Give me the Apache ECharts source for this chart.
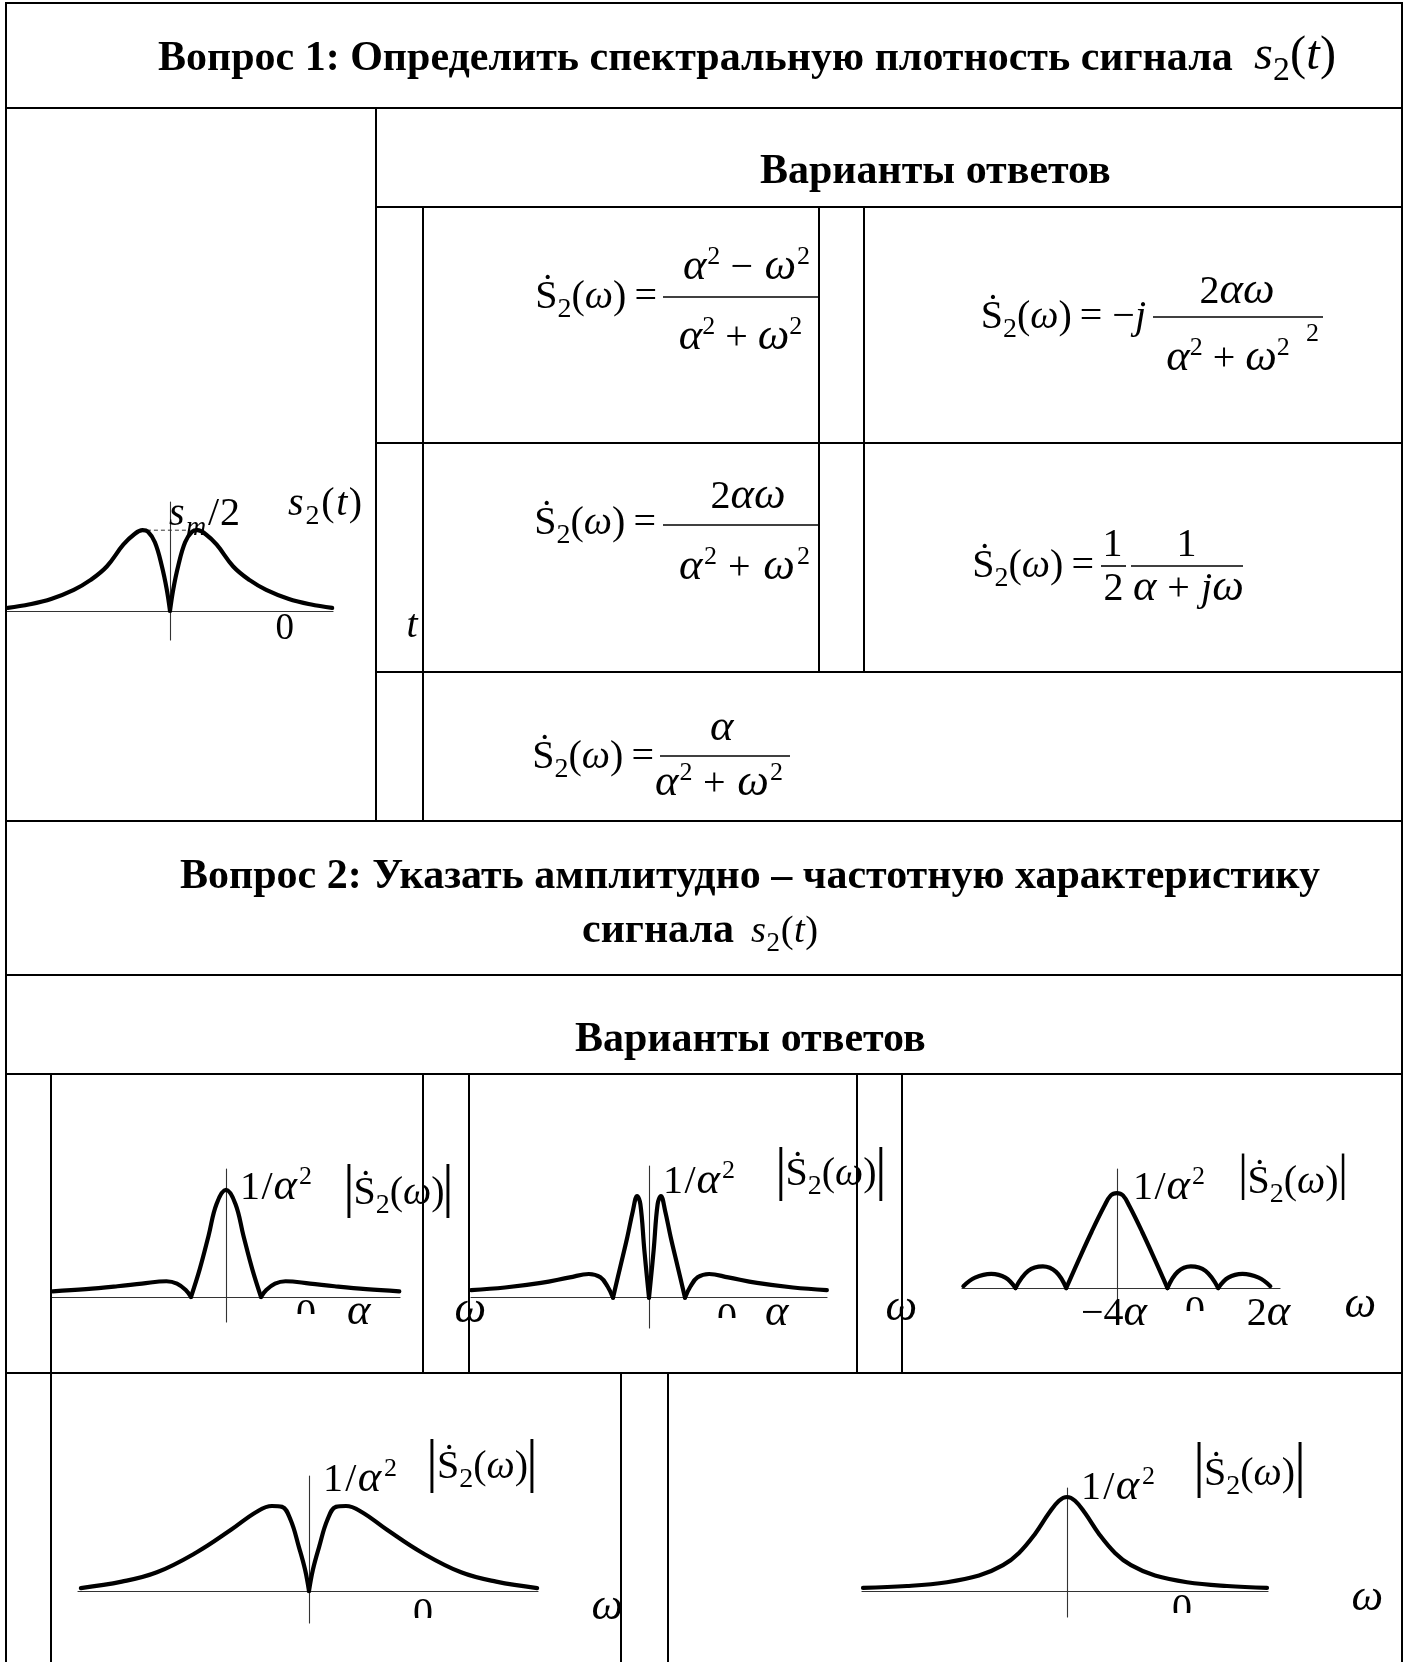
<!DOCTYPE html>
<html><head><meta charset="utf-8">
<script src="https://cdn.jsdelivr.net/npm/echarts@6.0.0/dist/echarts.min.js"></script>
<style>html,body{margin:0;padding:0;background:#fff}#c{width:1408px;height:1662px}</style>
</head><body><div id="c"></div>
<script>
// ================= DATA =================
// Question 1 time signal s2(t): x in units of the peak offset, y relative to s_m/2
const timeX = [-5.9,-5.1,-4.3,-3.5,-2.9,-2.3,-1.7,-1.3,-1.0,-0.8,-0.55,-0.3,-0.12,0,0.12,0.3,0.55,0.8,1.0,1.3,1.7,2.3,2.9,3.5,4.3,5.1,5.9];
const timeY = [0.035,0.08,0.15,0.26,0.38,0.55,0.82,0.95,1.0,0.98,0.85,0.56,0.27,0,0.27,0.56,0.85,0.98,1.0,0.95,0.82,0.55,0.38,0.26,0.15,0.08,0.035];
const levelX = [-0.84, 0.62];
const levelY = [1, 1];
// Answer A
const ampAX = [-4.95,-4.0,-3.1,-2.4,-1.7,-1.4,-1.15,-1.0,-0.75,-0.5,-0.27,0,0.27,0.5,0.75,1.0,1.15,1.4,1.7,2.4,3.1,4.0,4.95];
const ampAY = [0.053,0.073,0.1,0.125,0.147,0.125,0.065,0,0.26,0.57,0.87,1.0,0.87,0.57,0.26,0,0.065,0.125,0.147,0.125,0.1,0.073,0.053];
// Answer B
const ampBX = [-4.94,-4.0,-3.0,-2.2,-1.67,-1.35,-1.15,-1.0,-0.8,-0.6,-0.45,-0.33,-0.24,-0.13,0,0.13,0.24,0.33,0.45,0.6,0.8,1.0,1.15,1.35,1.67,2.2,3.0,4.0,4.94];
const ampBY = [0.075,0.1,0.145,0.2,0.233,0.2,0.11,0,0.3,0.6,0.85,1.0,0.92,0.47,0,0.47,0.92,1.0,0.85,0.6,0.3,0,0.11,0.2,0.233,0.2,0.145,0.1,0.075];
// Answer C
const ampCX = [-3.03,-2.8,-2.48,-2.2,-2.0,-1.75,-1.46,-1.2,-1.0,-0.75,-0.5,-0.25,-0.12,0,0.12,0.25,0.5,0.75,1.0,1.2,1.46,1.75,2.0,2.2,2.48,2.8,3.03];
const ampCY = [0.02,0.11,0.15,0.11,0,0.18,0.228,0.17,0,0.3,0.59,0.86,0.975,1.0,0.975,0.86,0.59,0.3,0,0.17,0.228,0.18,0,0.11,0.15,0.11,0.02];
// Answer D
const ampDX = [-5.85,-4.8,-3.9,-2.9,-2.0,-1.35,-0.95,-0.69,-0.47,-0.26,-0.1,0,0.1,0.26,0.47,0.69,0.95,1.35,2.0,2.9,3.9,4.8,5.85];
const ampDY = [0.035,0.11,0.22,0.45,0.72,0.93,1.0,0.99,0.835,0.52,0.25,0,0.25,0.52,0.835,0.99,1.0,0.93,0.72,0.45,0.22,0.11,0.035];
// Answer E
const ampEX = [-5.1,-4.0,-3.0,-2.2,-1.6,-1.2,-0.8,-0.45,-0.2,0,0.2,0.45,0.8,1.2,1.6,2.2,3.0,4.0,5.0];
const ampEY = [0.04,0.06,0.1,0.17,0.28,0.41,0.61,0.83,0.96,1.0,0.96,0.83,0.61,0.41,0.28,0.17,0.1,0.06,0.04];

// texts
const title1 = 'Вопрос 1: Определить спектральную плотность сигнала ';
const title2a = 'Вопрос 2: Указать амплитудно – частотную характеристику';
const title2b = 'сигнала ';
const answersHeader = 'Варианты ответов';
const tickLabelsA = ['0', 'α', 'ω'];
const tickLabelsB = ['0', 'α', 'ω'];
const tickLabelsC = ['−4α', '0', '2α', 'ω'];
const tickLabelsD = ['0', 'ω'];
const tickLabelsE = ['0', 'ω'];

// ================= LAYOUT =================
const FAM = '"Liberation Serif","Times New Roman",serif';
const ctx = document.createElement('canvas').getContext('2d');
function F(size, it, b){ return (it?'italic ':'') + (b?'bold ':'') + size.toFixed(1) + 'px ' + FAM; }
function meas(t, f){ ctx.font = f; ctx.textBaseline = 'alphabetic'; return ctx.measureText(t); }
function mid(f){
  const m = meas('Hg', f); const a = m.fontBoundingBoxAscent, d = m.fontBoundingBoxDescent;
  if (a == null || isNaN(a)) return 0.3375 * parseFloat(f.match(/([\d.]+)px/)[1]);
  return (a - d) / 2;
}
const G = [];
function T(t, f, x, base, align){
  G.push({type:'text', x:x, y:base - mid(f), z:20, silent:true,
    style:{text:t, font:f, fill:'#000', align:align||'left', verticalAlign:'middle'}});
}
function L(x1,y1,x2,y2,w,col){
  G.push({type:'line', z:15, silent:true, shape:{x1:x1,y1:y1,x2:x2,y2:y2}, style:{stroke:col||'#000', lineWidth:w||2}});
}
function R(x,y,w,h){ G.push({type:'rect', z:25, silent:true, shape:{x:x,y:y,width:w,height:h}, style:{fill:'#fff'}}); }
// style: [scale, italic, bold, baseline shift (em)]
const SS = { n:[1,0,0,0], i:[1,1,0,0], g:[1.12,1,0,0], b:[1,0,1,0], sub:[0.7,0,0,0.2], isub:[0.7,1,0,0.22], sup:[0.65,0,0,-0.42] };
function run(segs, size, x0, x1, base, alignRight){
  const items = []; let cur = 0;
  for (const s of segs){
    const st = SS[s[1]]; const fac = s[2] || 1; const sz = size*fac;
    const f = F(sz*st[0], st[1], st[2]); const w = meas(s[0], f).width;
    items.push({t:s[0], f:f, off:cur, w:w, dy:st[3]*sz, sz:sz}); cur += w;
  }
  const last = items[items.length-1]; let sc = 1;
  if (x1 != null){
    const target = x1 - x0;
    if (items.length > 1 && last.off > 0 && cur < target) sc = (target - last.w) / last.off;
    else x0 = alignRight ? x1 - cur : x0 + (target - cur) / 2;   // never squeeze
  }
  for (const it of items){ it.x = x0 + it.off*sc; T(it.t, it.f, it.x, base + it.dy); }
  return items;
}
function glyphC(t, f, cx, cy){
  const m = meas(t, f);
  T(t, f, cx - (m.actualBoundingBoxRight - m.actualBoundingBoxLeft)/2, cy + (m.actualBoundingBoxAscent - m.actualBoundingBoxDescent)/2);
}
function centerAt(t, f, cx, base){
  const m = meas(t, f); T(t, f, cx - (m.actualBoundingBoxRight - m.actualBoundingBoxLeft)/2, base);
}
function bar(cx, top, bottom){
  const m0 = meas('|', F(100)); const h = m0.actualBoundingBoxAscent + m0.actualBoundingBoxDescent;
  const f = F((bottom - top) / h * 100); const m = meas('|', f);
  T('|', f, cx - (m.actualBoundingBoxRight - m.actualBoundingBoxLeft)/2, bottom - m.actualBoundingBoxDescent);
}
function zeroCut(cx, top, cut, size){
  const f = F(size); const m = meas('0', f);
  T('0', f, cx - (m.actualBoundingBoxRight - m.actualBoundingBoxLeft)/2, top + m.actualBoundingBoxAscent);
  R(cx - 15, cut, 30, 30);
}
// Ṡ2(ω) with the dot above S
function sdot(size, x0, x1, base, tail){
  const segs = [['S','n'],['2','sub'],['(','n'],['ω','i'],[')','n']];
  if (tail) tail.forEach(s => segs.push(s));
  const items = run(segs, size, x0, x1, base, !!tail);
  glyphC('˙', F(size), items[0].x + items[0].w/2 + 1, base - 0.8*size);
  return items;
}
const EQ = '\u2009=';

// ---- table lines ----
const hLines = [[3,6,1402],[108,6,1402],[207,376,1402],[443,376,1402],[672,376,1402],[821,6,1402],[975,6,1402],[1074,6,1402],[1373,6,1402]];
const vLines = [[6,3,1662],[1402,3,1662],[376,108,821],[423,207,821],[819,207,672],[864,207,672],[51,1074,1662],[423,1074,1373],[469,1074,1373],[857,1074,1373],[902,1074,1373],[621,1373,1662],[668,1373,1662]];
hLines.forEach(l => L(l[1]-1, l[0], l[2]+1, l[0], 2.2));
vLines.forEach(l => L(l[0], l[1], l[0], l[2], 2));

// ---- headers ----
const HS = 42;
run([[title1,'b'],['s','i',1.15],['2','sub',1.15],['(','n',1.15],['t','i',1.15],[')','n',1.15]], HS, 158, 1336, 73);
centerAt(answersHeader, F(HS,0,1), 935, 186);
run([[title2a,'b']], HS, 171, 1329, 891);
run([[title2b,'b'],['s','i',0.92],['2','sub',0.92],['(','n',0.92],['t','i',0.92],[')','n',0.92]], HS, 582, 818, 945);
centerAt(answersHeader, F(HS,0,1), 750, 1054);

// ---- formulas (question 1 answers) ----
const FS = 40;
const sq = (op) => [['α','g'],['2','sup'],[op,'n'],['ω','g'],['2','sup']];
// F1
sdot(FS, 538, 657, 311, [[EQ,'n']]);
L(663, 297, 820, 297, 1.6);
run(sq(' − '), FS, 683, 810, 282);
run(sq(' + '), FS, 680, 801, 352);
// F2
sdot(FS, 981, 1146, 331, [[EQ + ' −','n'],['j','i']]);
L(1153, 317, 1323, 317, 1.6);
run([['2','n'],['α','g'],['ω','g']], FS, 1202, 1272, 306);
run(sq(' + '), FS, 1168, 1288, 373);
run([['2','sup']], FS, 1306, null, 343 + 0.42*FS);
// F3
sdot(FS, 537, 656, 537, [[EQ,'n']]);
L(663, 525, 818, 525, 1.6);
run([['2','n'],['α','g'],['ω','g']], FS, 712, 784, 511);
run(sq(' + '), FS, 679, 810, 582);
// F4
sdot(FS, 981, 1094, 580, [[EQ,'n']]);
L(1101, 566, 1126, 566, 1.6);
L(1131, 566, 1243, 566, 1.6);
centerAt('1', F(FS), 1113, 559);
centerAt('2', F(FS), 1113, 603);
centerAt('1', F(FS), 1187, 559);
run([['α','g'],[' + ','n'],['j','i'],['ω','g']], FS, 1133, 1244, 603);
// F5
sdot(FS, 534, 654, 771, [[EQ,'n']]);
L(660, 756, 790, 756, 1.6);
centerAt('α', F(FS*1.12,1), 723, 743);
run(sq(' + '), FS, 655, 783, 798);

// ---- question 1 plot labels ----
const PS = 40;
run([['s','i'],['m','isub'],['/','n'],['2','n']], PS, 169, 240, 528);
run([['s','i'],['2','sub'],['(','n'],['t','i'],[')','n']], PS, 288, 362, 518);
centerAt('0', F(37), 285, 642);
centerAt('t', F(PS,1), 413, 640);

// ---- question 2 plot labels ----
const LS = 40;
function ampLabel(p){
  run([['1','n'],['/','n'],['α','g'],['2','sup']], LS, p.pk[0], p.pk[1], p.pk[2]);
  bar(p.bars[0], p.bars[2], p.bars[3]); bar(p.bars[1], p.bars[2], p.bars[3]);
  sdot(LS, p.inner[0], p.inner[1], p.inner[2]);
}
ampLabel({pk:[240,312,1202], bars:[349,448,1168,1222], inner:[356,442,1207]});
ampLabel({pk:[663,735,1196], bars:[781,881,1152,1205], inner:[788,874,1188]});
ampLabel({pk:[1133,1205,1202], bars:[1243,1343,1158,1204], inner:[1250,1336,1196]});
ampLabel({pk:[323,397,1494], bars:[432,532,1443,1497], inner:[439,526,1481]});
ampLabel({pk:[1081,1155,1502], bars:[1199,1300,1448,1503], inner:[1206,1293,1488]});
// tick-like labels
const GL = LS*1.12;
zeroCut(306, 1303, 1314, LS); centerAt(tickLabelsA[1], F(GL,1), 360, 1327); centerAt(tickLabelsA[2], F(GL,1), 470, 1325);
zeroCut(727, 1307, 1318, LS); centerAt(tickLabelsB[1], F(GL,1), 778, 1328); centerAt(tickLabelsB[2], F(GL,1), 901, 1323);
run([['−','n'],['4','n'],['α','g']], LS, 1083, 1145, 1328);
zeroCut(1195, 1300, 1311, LS);
run([['2','n'],['α','g']], LS, 1247, 1290, 1328);
centerAt(tickLabelsC[3], F(GL,1), 1360, 1320);
zeroCut(423, 1602, 1618, LS); centerAt(tickLabelsD[1], F(GL,1), 607, 1622);
zeroCut(1182, 1598, 1613, LS); centerAt(tickLabelsE[1], F(GL,1), 1367, 1613);

// ---- plots ----
const plots = [
  {box:[7,502,326,138],   xr:[-5.93,5.93], yr:[-0.363,1.35], xs:timeX, ys:timeY},
  {box:[52,1169,348,153], xr:[-4.97,4.97], yr:[-0.234,1.196], xs:ampAX, ys:ampAY},
  {box:[471,1166,356,162], xr:[-4.944,4.944], yr:[-0.298,1.295], xs:ampBX, ys:ampBY},
  {box:[962,1169,318,154], xr:[-3.057,3.221], yr:[-0.368,1.253], xs:ampCX, ys:ampCY},
  {box:[78,1476,460,147], xr:[-5.923,5.872], yr:[-0.376,1.353], xs:ampDX, ys:ampDY},
  {box:[862,1488,406,129], xr:[-5.125,5.025], yr:[-0.267,1.095], xs:ampEX, ys:ampEY}
];
function segmentsOf(xs, ys){
  const segs = []; let cur = [];
  for (let j = 0; j < xs.length; j++){
    cur.push([xs[j], ys[j]]);
    if (ys[j] === 0 && j > 0 && j < xs.length - 1){ segs.push(cur); cur = [[xs[j], ys[j]]]; }
  }
  segs.push(cur); return segs;
}
const series = [];
plots.forEach((p, i) => {
  segmentsOf(p.xs, p.ys).forEach(seg => series.push({
    type:'line', xAxisIndex:i, yAxisIndex:i, data:seg, smooth:0.4, symbol:'none', silent:true,
    lineStyle:{color:'#000', width:4.2, cap:'round', join:'round'}, z:5
  }));
});
series.push({type:'line', xAxisIndex:0, yAxisIndex:0, data:levelX.map((x,j)=>[x, levelY[j]]), symbol:'none', silent:true,
  lineStyle:{color:'#333', width:1, type:[4,3]}, z:4});

const axisCommon = (color, w) => ({axisLine:{show:true, onZero:true, lineStyle:{color:color, width:w}}, axisTick:{show:false}, axisLabel:{show:false}, splitLine:{show:false}});
const option = {
  backgroundColor:'#fff', animation:false,
  grid: plots.map(p => ({left:p.box[0], top:p.box[1], width:p.box[2], height:p.box[3], containLabel:false})),
  xAxis: plots.map((p,i) => Object.assign({type:'value', gridIndex:i, min:p.xr[0], max:p.xr[1]}, axisCommon('#333', 1.2))),
  yAxis: plots.map((p,i) => Object.assign({type:'value', gridIndex:i, min:p.yr[0], max:p.yr[1]}, axisCommon('#333', 1.1))),
  series: series,
  graphic: {elements: G}
};
const chart = echarts.init(document.getElementById('c'), null, {renderer:'canvas', width:1408, height:1662});
chart.setOption(option);
</script></body></html>
